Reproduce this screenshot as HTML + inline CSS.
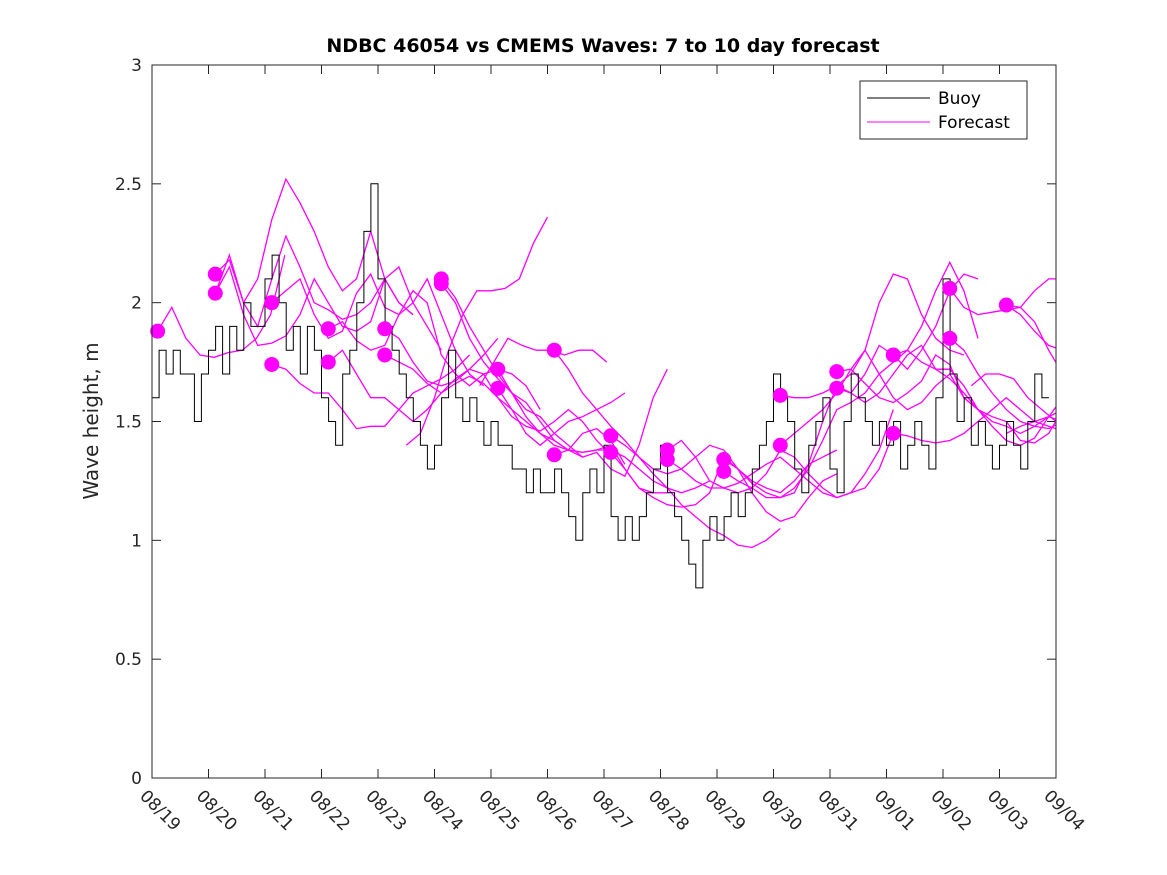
<!DOCTYPE html>
<html><head><meta charset="utf-8"><style>
html,body{margin:0;padding:0;background:#fff;}
svg{display:block;font-family:"DejaVu Sans","Liberation Sans",sans-serif;}
</style></head><body>
<svg id="chart" width="1167" height="875">
<rect x="0" y="0" width="1167" height="875" fill="#fff"/>
<defs><clipPath id="pc"><rect x="152" y="65" width="904" height="713"/></clipPath></defs>
<text x="603" y="52" text-anchor="middle" font-size="19" font-weight="bold">NDBC 46054 vs CMEMS Waves: 7 to 10 day forecast</text>
<text transform="translate(98,421) rotate(-90)" text-anchor="middle" font-size="20" fill="#262626">Wave height, m</text>
<g id="axes"></g>
<g id="fc" clip-path="url(#pc)"></g>
<g id="buoy" clip-path="url(#pc)"></g>
<g id="dots"></g>
<rect x="152" y="65" width="904" height="713" fill="none" stroke="#262626" stroke-width="1"/>
<g>
<rect x="860" y="81" width="167" height="58" fill="#fff" stroke="#262626"/>
<line x1="867" y1="98" x2="930" y2="98" stroke="#000"/>
<text x="938" y="104" font-size="17">Buoy</text>
<line x1="867" y1="122" x2="930" y2="122" stroke="#ff00ff"/>
<text x="938" y="128" font-size="17">Forecast</text>
</g>
</svg>
<script>
const xTickLabels=["08/19","08/20","08/21","08/22","08/23","08/24","08/25","08/26","08/27","08/28","08/29","08/30","08/31","09/01","09/02","09/03","09/04"];
const yTicks=[0,0.5,1,1.5,2,2.5,3];
const yTickLabels=["0","0.5","1","1.5","2","2.5","3"];
const buoyStep=0.125;
const buoyValues=[
1.6,1.8,1.7,1.8,1.7,1.7,1.5,1.7,
1.8,1.9,1.7,1.9,1.8,2.0,1.9,1.9,
2.1,2.2,2.0,1.8,1.9,1.7,1.9,1.8,
1.6,1.5,1.4,1.7,1.8,2.0,2.3,2.5,
2.1,1.9,1.8,1.7,1.6,1.5,1.4,1.3,
1.4,1.6,1.8,1.6,1.5,1.6,1.5,1.4,
1.5,1.4,1.4,1.3,1.3,1.2,1.3,1.2,
1.2,1.3,1.2,1.1,1.0,1.2,1.3,1.2,
1.4,1.1,1.0,1.1,1.0,1.1,1.2,1.3,
1.4,1.2,1.1,1.0,0.9,0.8,1.0,1.1,
1.0,1.1,1.2,1.1,1.2,1.3,1.4,1.5,
1.7,1.6,1.5,1.3,1.2,1.4,1.5,1.6,
1.3,1.2,1.5,1.7,1.6,1.5,1.4,1.5,
1.4,1.5,1.3,1.4,1.5,1.4,1.3,1.6,
2.1,1.7,1.5,1.6,1.4,1.5,1.4,1.3,
1.4,1.5,1.4,1.3,1.5,1.7,1.6];
const fcStep=0.25;
const fcStarts=[0.1,1.12,1.12,1.12,2.12,2.12,3.12,3.12,4.12,4.12,5.12,5.12,4.5,6.12,6.12,5.8,7.12,7.12,8.12,8.12,9.12,9.12,10.12,10.12,11.12,11.12,12.12,12.12,13.12,13.12,14.12,14.12,15.12,15.12,14.5,15.12];
const fcValues=[
[1.88,1.98,1.85,1.78,1.77,1.79,1.80,1.85,1.95,2.2],
[2.12,2.18,2.0,2.1,2.35,2.52,2.42,2.3,2.15,2.05,2.1,2.3,2.1,2.0,1.95],
[2.04,2.20,2.0,1.9,2.1,2.28,2.15,2.0,1.97,1.93,1.95,2.0,2.1,2.0,1.95],
[2.04,2.15,1.95,1.82,1.83,1.86,1.95,2.10,2.00,1.90,1.88,1.92,2.10,2.15,2.0,1.9,1.8],
[2.00,2.05,2.10,1.95,1.85,1.88,2.04,2.12,1.98,1.95,2.00,2.10,1.95,1.80,1.70,1.65],
[1.74,1.72,1.66,1.62,1.62,1.55,1.47,1.48,1.48,1.55,1.62,1.65,1.68,1.72,1.78],
[1.89,1.92,1.84,1.80,1.82,1.95,2.05,2.00,1.78,1.70,1.65,1.70,1.72,1.70,1.65,1.55],
[1.75,1.80,1.70,1.60,1.60,1.55,1.50,1.55,1.62,1.68,1.72,1.78,1.85],
[1.89,1.85,1.75,1.67,1.65,1.67,1.72,1.70,1.60,1.52,1.48,1.46,1.50,1.55,1.50,1.42,1.36],
[1.78,1.75,1.72,1.66,1.62,1.66,1.69,1.66,1.60,1.55,1.50,1.45,1.42,1.38,1.35],
[2.10,2.02,1.90,1.80,1.70,1.62,1.55,1.52,1.45,1.40,1.35,1.37,1.30,1.27,1.40,1.60,1.72],
[2.08,2.00,1.85,1.75,1.68,1.62,1.58,1.50,1.42,1.38,1.45,1.47,1.42,1.32],
[1.40,1.45,1.60,1.80,1.95,2.05,2.05,2.06,2.10,2.25,2.36],
[1.72,1.62,1.52,1.45,1.40,1.38,1.37,1.38,1.40,1.30,1.22,1.20,1.20],
[1.64,1.55,1.45,1.40,1.45,1.50,1.52,1.55,1.58,1.62],
[1.65,1.75,1.85,1.82,1.80,1.80,1.78,1.80,1.80,1.75],
[1.80,1.72,1.62,1.55,1.48,1.42,1.35,1.28,1.22,1.15,1.10,1.05,1.02,0.98,0.97,1.0,1.05],
[1.36,1.38,1.37,1.38,1.38,1.35,1.30,1.25,1.22,1.20,1.22,1.25],
[1.44,1.40,1.35,1.30,1.28,1.30,1.35,1.40,1.38,1.30,1.25,1.22,1.20,1.25,1.32,1.35,1.38],
[1.37,1.30,1.22,1.18,1.15,1.14,1.15,1.20,1.35,1.30,1.20,1.12,1.08,1.10,1.18,1.25,1.28],
[1.38,1.42,1.35,1.25,1.22,1.24,1.28,1.32,1.35,1.30,1.25,1.20,1.18,1.20,1.28,1.38,1.55],
[1.34,1.30,1.25,1.22,1.22,1.20,1.22,1.28,1.38,1.35,1.28,1.22,1.18,1.20,1.22,1.30,1.45],
[1.34,1.30,1.24,1.20,1.18,1.20,1.32,1.50,1.65,1.62,1.70,1.82,1.78,1.72,1.80,1.90,2.05,2.12,2.10],
[1.29,1.25,1.22,1.18,1.18,1.22,1.30,1.42,1.55,1.58,1.62,1.70,1.75,1.80,1.90,2.05,2.17,2.05,1.85],
[1.61,1.60,1.60,1.62,1.65,1.70,1.80,2.00,2.12,2.10,1.95,1.85,1.80,1.78],
[1.40,1.45,1.50,1.55,1.62,1.72,1.80,1.70,1.60,1.55,1.58,1.65,1.70,1.60,1.55],
[1.71,1.72,1.66,1.60,1.58,1.62,1.67,1.78,1.74,1.60,1.55,1.52,1.50,1.42,1.41,1.45,1.55,1.70,1.90],
[1.64,1.62,1.58,1.62,1.70,1.78,1.82,1.72,1.72,1.65,1.55,1.48,1.42,1.40,1.43,1.52,1.60,1.78,2.0],
[1.78,1.80,1.75,1.72,1.68,1.62,1.55,1.50,1.48,1.45,1.48,1.52,1.50,1.55],
[1.45,1.44,1.42,1.41,1.42,1.45,1.50,1.55,1.60,1.55,1.50,1.48,1.46,1.50,1.58,1.60],
[2.06,1.98,1.95,1.96,1.97,1.98,2.05,2.10,2.10,2.15,2.05,2.00,2.05,2.10,2.08,2.0],
[1.85,1.80,1.70,1.62,1.55,1.50,1.48,1.47,1.50,1.55,1.60,1.65,1.68,1.62,1.58,1.52],
[1.99,1.98,1.92,1.80,1.70,1.65,1.62,1.65],
[1.99,1.95,1.88,1.82,1.80,1.85,1.85,1.84],
[1.65,1.70,1.70,1.68,1.60,1.55,1.50,1.45,1.40,1.35,1.28,1.28,1.32,1.38],
[1.45,1.48,1.50,1.52,1.55,1.58,1.62,1.67]];
const dotDays=[0.1,1.12,1.12,2.12,2.12,3.12,3.12,4.12,4.12,5.12,5.12,6.12,6.12,7.12,7.12,8.12,8.12,9.12,9.12,10.12,10.12,11.12,11.12,12.12,12.12,13.12,13.12,14.12,14.12,15.12];
const dotValues=[1.88,2.12,2.04,2.00,1.74,1.89,1.75,1.89,1.78,2.10,2.08,1.72,1.64,1.80,1.36,1.44,1.37,1.38,1.34,1.34,1.29,1.61,1.40,1.71,1.64,1.78,1.45,2.06,1.85,1.99];

const X0=152,X1=1056,Y0=778,Y1=65;
const xs=d=>X0+(X1-X0)*d/16;
const ys=v=>Y0-(Y0-Y1)*v/3;
const NS="http://www.w3.org/2000/svg";
function mk(tag,attrs,parent){const e=document.createElementNS(NS,tag);for(const k in attrs)e.setAttribute(k,attrs[k]);parent.appendChild(e);return e;}
const ax=document.getElementById('axes');
xTickLabels.forEach((t,i)=>{
  const x=xs(i);
  const l=mk('line',{x1:x,y1:Y0,x2:x,y2:Y0-9,stroke:'#262626'},ax);
  
  
  const l2=mk('line',{x1:x,y1:Y1,x2:x,y2:Y1+9,stroke:'#262626'},ax);
  
  
  const tx=mk('text',{transform:`translate(${x-13},${Y0+19}) rotate(45)`,'font-size':17,fill:'#262626'},ax);
  tx.textContent=t;
  
  
});
yTicks.forEach((v,i)=>{
  const y=ys(v);
  const l=mk('line',{x1:X0,y1:y,x2:X0+9,y2:y,stroke:'#262626'},ax);
  
  
  const l2=mk('line',{x1:X1,y1:y,x2:X1-9,y2:y,stroke:'#262626'},ax);
  
  
  const tx=mk('text',{x:X0-10,y:y+6,'text-anchor':'end','font-size':17,fill:'#262626'},ax);
  tx.textContent=yTickLabels[i];
  
  
});
const fc=document.getElementById('fc');
fcValues.forEach((vals,i)=>{
  const pts=vals.map((v,j)=>xs(fcStarts[i]+j*fcStep).toFixed(1)+','+ys(v).toFixed(1)).join(' ');
  const p=mk('polyline',{points:pts,fill:'none',stroke:'#ff00ff','stroke-width':1.3},fc);
  
  
});
const bg=document.getElementById('buoy');
let bp=[];
buoyValues.forEach((v,j)=>{
  const x0=xs(j*buoyStep),x1=xs((j+1)*buoyStep);
  bp.push(x0.toFixed(1)+','+ys(v).toFixed(1));
  bp.push(x1.toFixed(1)+','+ys(v).toFixed(1));
});
const bl=mk('polyline',{points:bp.join(' '),fill:'none',stroke:'#000','stroke-width':1},bg);


const dg=document.getElementById('dots');
dotDays.forEach((d,i)=>{
  const c=mk('circle',{cx:xs(d),cy:ys(dotValues[i]),r:7.5,fill:'#ff00ff'},dg);
  
  
});
</script>
</body></html>
